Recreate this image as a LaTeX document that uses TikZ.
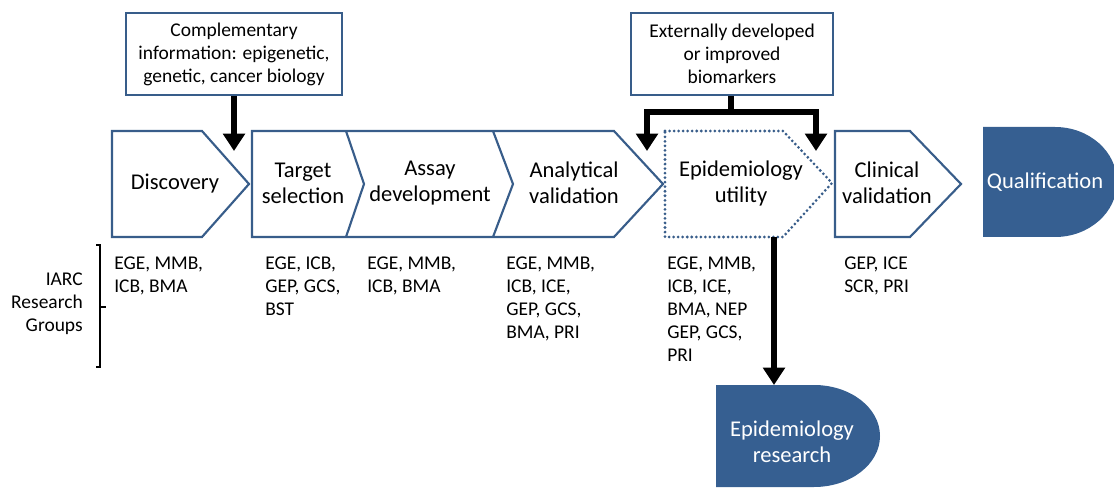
\documentclass[tikz,border=0pt]{standalone}
\usepackage{fontspec}
\setmainfont{Carlito}
\usetikzlibrary{arrows.meta}
\definecolor{iarcline}{RGB}{56,93,138}
\definecolor{iarcfill}{RGB}{54,95,145}
\newcommand\stagefont{\fontsize{16.9}{19.5}\selectfont}
\newcommand\groupfont{\fontsize{14.6}{17.25}\selectfont}
\begin{document}
\begin{tikzpicture}[x=0.75pt,y=-0.75pt]
\tikzstyle{stage} = [draw=iarcline, line width=1.6pt, line join=miter]
\tikzstyle{dotstage} = [draw=iarcline, line width=2.3pt, line cap=round, dash pattern=on 0pt off 3.4pt]
\tikzstyle{final} = [fill=iarcfill]
\tikzstyle{stagetext} = [align=center, font=\stagefont]
\tikzstyle{finaltext} = [align=center, text=white, font=\stagefont]
\tikzstyle{infobox} = [rectangle, draw=iarcline, line width=1.2pt, fill=white, align=center, font=\groupfont, minimum height=61.5pt]
\tikzstyle{groups} = [anchor=north west, align=left, inner sep=0pt, font=\groupfont]
\tikzstyle{bigarrow} = [line width=5pt, line join=miter, -{Triangle[length=13pt,width=16pt]}]

\useasboundingbox (0,0) rectangle (1114,488);

%shapes
\draw [stage] (112,131) -- (202,131) -- (249,184) -- (202,237) -- (112,237) -- cycle;
\draw [stage] (252,131) -- (614,131) -- (663,184) -- (614,237) -- (252,237) -- cycle;
\draw [stage] (346,131) -- (364,184) -- (346,237);
\draw [stage] (493,131) -- (513,184) -- (493,237);
\draw [dotstage] (665,131) -- (783,131) -- (832,183) -- (783,237) -- (665,237) -- cycle;
\draw [stage] (835,131) -- (910,131) -- (961,184) -- (910,237) -- (835,237) -- cycle;
\fill [final] (983,127) -- (1055,127) arc [start angle=90, end angle=-90, x radius=46.5pt, y radius=41.25pt] -- (983,237) -- cycle;
\fill [final] (716,385) -- (814,385) arc [start angle=90, end angle=-90, x radius=49.5pt, y radius=38.25pt] -- (716,487) -- cycle;

%nodes
\node (disc) [stagetext] at (175,184) {Discovery};
\node (target) [stagetext] at (303,183) {Target\\selection};
\node (assay) [stagetext] at (430,183) {Assay\\development};
\node (analyt) [stagetext] at (574,183) {Analytical\\validation};
\node (epiutil) [stagetext] at (741,183) {Epidemiology\\utility};
\node (clinical) [stagetext] at (887,183) {Clinical\\validation};
\node (qual) [finaltext] at (1045,182) {Qualification};
\node (epires) [finaltext] at (792,442) {Epidemiology\\research};

\node (comp) [infobox, minimum width=162pt] at (234,54) {Complementary\\information: epigenetic,\\genetic, cancer biology};
\node (ext) [infobox, minimum width=151.5pt] at (732,54) {Externally developed\\or improved\\biomarkers};

\node (iarc) [anchor=east, align=right, font=\groupfont, inner sep=0pt] at (83,304) {IARC\\Research\\Groups};
\node (gdisc) [groups] at (114,257) {EGE, MMB,\\ICB, BMA};
\node (gtarget) [groups] at (265,257) {EGE, ICB,\\GEP, GCS,\\BST};
\node (gassay) [groups] at (367,257) {EGE, MMB,\\ICB, BMA};
\node (ganalyt) [groups] at (506,257) {EGE, MMB,\\ICB, ICE,\\GEP, GCS,\\BMA, PRI};
\node (gepi) [groups] at (667,257) {EGE, MMB,\\ICB, ICE,\\BMA, NEP\\GEP, GCS,\\PRI};
\node (gclin) [groups] at (844,257) {GEP, ICE\\SCR, PRI};

\coordinate (comptip) at (234,151);
\coordinate (extbar) at (731,112);
\coordinate (extleft) at (647,151);
\coordinate (extright) at (816,151);
\coordinate (epibottom) at (774,237);
\coordinate (epirestop) at (774,385);

%bracket
\draw [line width=1pt] (96,245) -- (100,245) -- (100,367) -- (96,367);
\draw [line width=1pt] (100,307) -- (106,307);

%arrows
\draw [bigarrow] (comp.south -| comptip) -- (comptip);
\draw [bigarrow] (ext.south -| extbar) -- (extbar) -| (extleft);
\draw [bigarrow] (extbar) -| (extright);
\draw [bigarrow] (epibottom) -- (epirestop);
\end{tikzpicture}
\end{document}
